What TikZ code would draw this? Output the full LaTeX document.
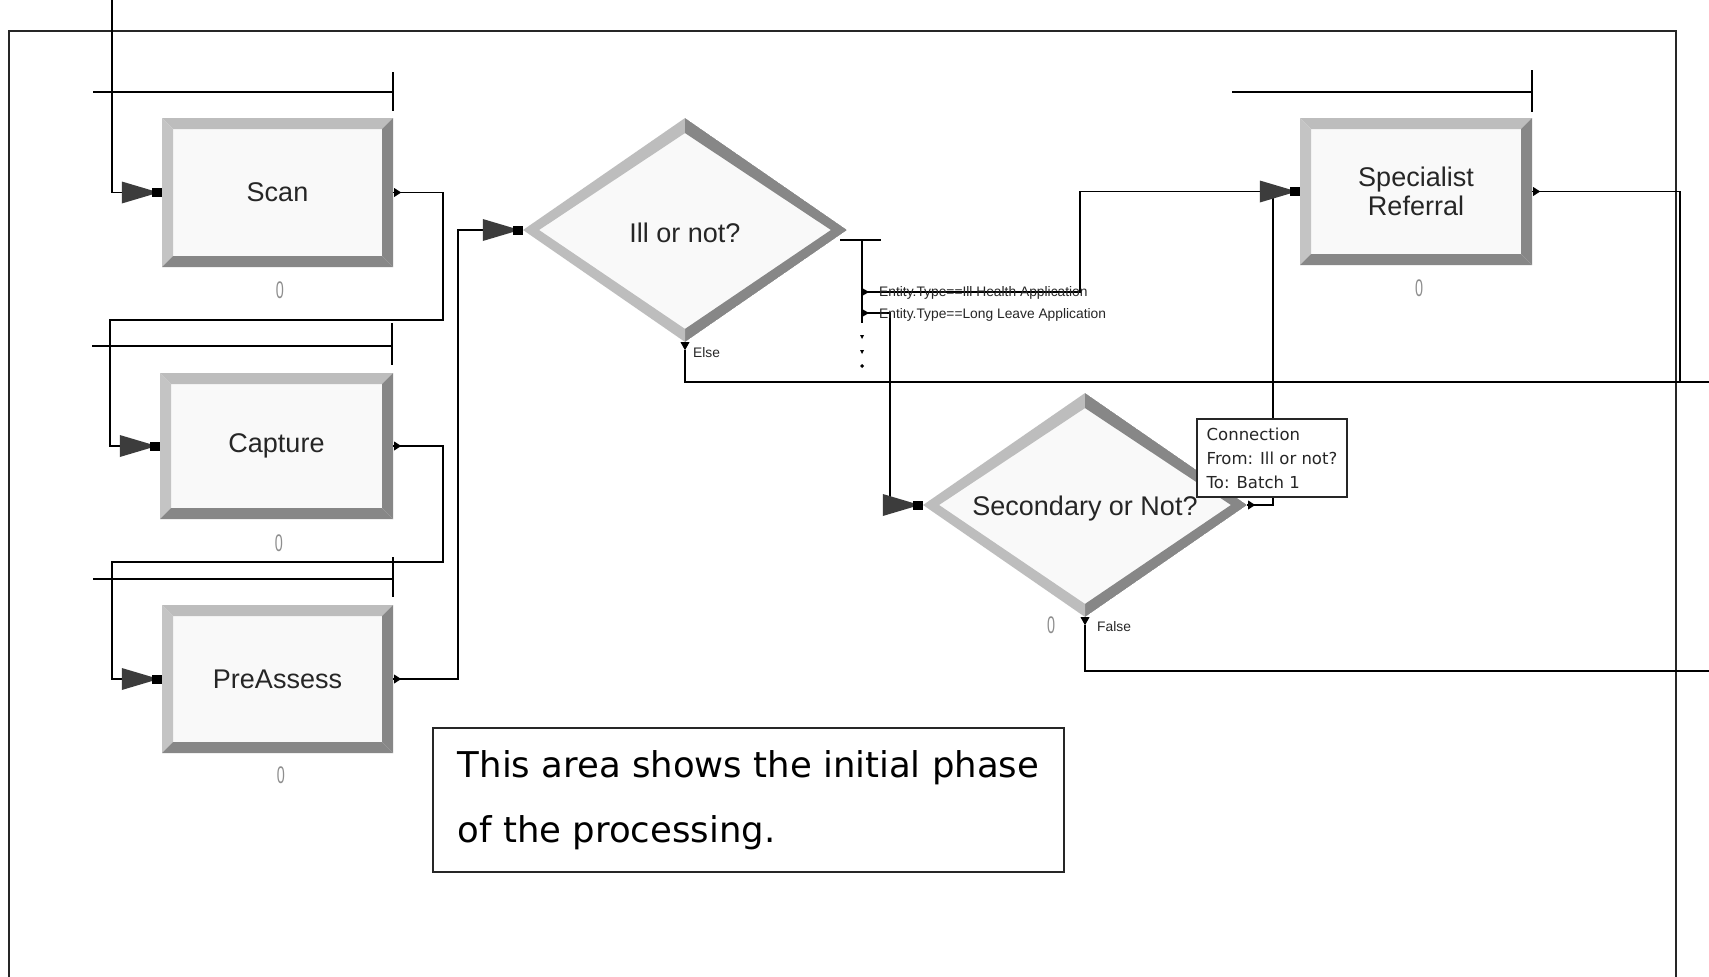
\documentclass[tikz,border=0pt]{standalone}
\usepackage{fontspec}
\setmainfont{Liberation Sans}
\newfontfamily\notefont{DejaVu Sans}
\usetikzlibrary{shapes.geometric}
\definecolor{boxfill}{HTML}{F9F9F9}
\definecolor{bevlight}{HTML}{BDBDBD}
\definecolor{bevlighter}{HTML}{C4C4C4}
\definecolor{bevdark}{HTML}{878787}
\definecolor{entrydark}{HTML}{3C3C3C}
\definecolor{cntgray}{HTML}{8E8E8E}
\definecolor{labtext}{HTML}{262626}
\newcommand\labfont{\fontsize{27}{29}\selectfont}
\newcommand\smlfont{\fontsize{13.8}{15}\selectfont}
\newcommand\myentrymark[1]{%
  \fill[entrydark] ([xshift=-40pt,yshift=11pt]#1) -- ([xshift=-8pt,yshift=1.5pt]#1) -- ([xshift=-8pt,yshift=-1.5pt]#1) -- ([xshift=-40pt,yshift=-11pt]#1) -- cycle;
  \fill[black] ([xshift=-10pt,yshift=-4.5pt]#1) rectangle ([yshift=4.5pt]#1);}
\newcommand\myoutmark[1]{\fill[black] ([xshift=1pt,yshift=4.5pt]#1) -- ([xshift=8pt]#1) -- ([xshift=1pt,yshift=-4.5pt]#1) -- cycle;}
\newcommand\mydownmark[1]{\fill[black] ([xshift=-4.5pt]#1) -- ([xshift=4.5pt]#1) -- ([yshift=-8pt]#1) -- cycle;}
\newcommand\mybranchmark[1]{\fill[black] ([yshift=4pt]#1) -- ([xshift=7pt]#1) -- ([yshift=-4pt]#1) -- cycle;}
\tikzset{
  conn/.style={line width=1.5pt,black},
  frame/.style={line width=1.7pt,black!85},
  queue/.style={line width=1.5pt,black},
  procbox/.style={rectangle, inner sep=0pt, fill=boxfill, minimum width=231pt, minimum height=149pt,
    font=\labfont, align=center, text=labtext,
    path picture={
      \fill[bevlight] (path picture bounding box.north west) -- (path picture bounding box.north east)
        -- ([xshift=-11pt,yshift=-11pt]path picture bounding box.north east)
        -- ([xshift=11pt,yshift=-11pt]path picture bounding box.north west) -- cycle;
      \fill[bevlighter] (path picture bounding box.north west) -- ([xshift=11pt,yshift=-11pt]path picture bounding box.north west)
        -- ([xshift=11pt,yshift=11pt]path picture bounding box.south west)
        -- (path picture bounding box.south west) -- cycle;
      \fill[bevdark] (path picture bounding box.south west) -- (path picture bounding box.south east)
        -- ([xshift=-11pt,yshift=11pt]path picture bounding box.south east)
        -- ([xshift=11pt,yshift=11pt]path picture bounding box.south west) -- cycle;
      \fill[bevdark] (path picture bounding box.north east) -- (path picture bounding box.south east)
        -- ([xshift=-11pt,yshift=11pt]path picture bounding box.south east)
        -- ([xshift=-11pt,yshift=-11pt]path picture bounding box.north east) -- cycle;
    }},
  decbox/.style={diamond, aspect=1.45, inner sep=0pt, minimum width=324pt, minimum height=224pt,
    fill=boxfill, font=\labfont, text=labtext,
    path picture={
      \fill[bevlight] (path picture bounding box.west) -- (path picture bounding box.north)
        -- ([yshift=-15pt]path picture bounding box.north) -- ([xshift=16pt]path picture bounding box.west) -- cycle;
      \fill[bevdark] (path picture bounding box.north) -- (path picture bounding box.east)
        -- ([xshift=-16pt]path picture bounding box.east) -- ([yshift=-15pt]path picture bounding box.north) -- cycle;
      \fill[bevdark] (path picture bounding box.east) -- (path picture bounding box.south)
        -- ([yshift=13pt]path picture bounding box.south) -- ([xshift=-16pt]path picture bounding box.east) -- cycle;
      \fill[bevlight] (path picture bounding box.south) -- (path picture bounding box.west)
        -- ([xshift=16pt]path picture bounding box.west) -- ([yshift=13pt]path picture bounding box.south) -- cycle;
    }},
  cnt/.style={inner sep=0pt, font=\fontsize{24}{24}\selectfont, text=cntgray},
  smalllab/.style={inner sep=0pt, anchor=west, font=\smlfont, text=labtext},
  tipbox/.style={draw=black!85, line width=1.3pt, fill=white, inner sep=0pt, minimum width=150pt,
    minimum height=78pt, align=left, font=\notefont\fontsize{16.5}{24}\selectfont, text=black!85},
  notebox/.style={draw=black!85, line width=1.4pt, fill=white, inner sep=0pt, minimum width=631pt,
    minimum height=144pt, align=left, font=\notefont\fontsize{35.5}{65}\selectfont, text=black}
}
\begin{document}
\begin{tikzpicture}[x=1pt,y=-1pt]
\useasboundingbox (0,0) rectangle (1709,977);
\fill[white] (0,0) rectangle (1709,977);
% outer frame
\draw[frame] (9,977) -- (9,31) -- (1676,31) -- (1676,977);

% queue lines
\draw[queue] (93,92) -- (393,92) (393,72) -- (393,111);
\draw[queue] (92,346) -- (392,346) (392,323) -- (392,365);
\draw[queue] (93,579) -- (393,579) (393,557) -- (393,597);
\draw[queue] (1232,92) -- (1532,92) (1532,70) -- (1532,112);

% modules
\node[procbox] (scan) at (277.5,192.5) {Scan};
\node[procbox, minimum width=233pt, minimum height=146pt] (capture) at (276.5,446) {Capture};
\node[procbox, minimum height=148pt] (preassess) at (277.5,679) {PreAssess};
\node[procbox, minimum width=232pt, minimum height=147pt] (specialist) at (1416,191.5) {Specialist\\Referral};
\node[decbox] (ill) at (685,230) {\raisebox{-3pt}[\height][\depth]{Ill or not?}};
\node[decbox] (sec) at (1085,505) {\raisebox{-4pt}[\height][\depth]{Secondary or Not?}};

% counters
\node[cnt] (scancnt) at (280,290) {\scalebox{0.6}[1]{0}};
\node[cnt] (capcnt) at (279,543) {\scalebox{0.6}[1]{0}};
\node[cnt] (precnt) at (281,775) {\scalebox{0.6}[1]{0}};
\node[cnt] (speccnt) at (1419,288) {\scalebox{0.6}[1]{0}};
\node[cnt] (seccnt) at (1051,625) {\scalebox{0.6}[1]{0}};

% entry points
\coordinate (scanIn) at ([xshift=-40pt]scan.west);
\coordinate (capIn) at ([xshift=-40pt]capture.west);
\coordinate (preIn) at ([xshift=-40pt]preassess.west);
\coordinate (illIn) at ([xshift=-40pt]ill.west);
\coordinate (secIn) at ([xshift=-40pt]sec.west);
\coordinate (specIn) at ([xshift=-40pt]specialist.west);
\coordinate (topSrc) at (112,0);
\coordinate (illBar) at (862,240);
\coordinate (br1) at (862,292);
\coordinate (br2) at (862,313);
\coordinate (edgeElse) at (1709,382);
\coordinate (edgeFalse) at (1709,671);

% connectors
\draw[conn] (topSrc) |- (scanIn);
\draw[conn] (scan.east) -| (443,320) -- (110,320) |- (capIn);
\draw[conn] (capture.east) -| (443,562) -- (112,562) |- (preIn);
\draw[conn] (preassess.east) -- (458,679) |- (illIn);
\draw[conn] (840,240) -- (881,240);
\draw[conn] (illBar) -- (862,323);
\draw[conn] (br1) -- (1080,292) |- (specIn);
\draw[conn] (br2) -| ([xshift=7pt]secIn);
\draw[conn] ([yshift=-8pt]ill.south) |- (edgeElse);
\draw[conn] (sec.east) -| ([xshift=13pt]specIn);
\draw[conn] ([yshift=-8pt]sec.south) |- (edgeFalse);
\draw[conn] (specialist.east) -- (1680,191.5) |- (edgeElse);

% markers
\myentrymark{scan.west}
\myentrymark{capture.west}
\myentrymark{preassess.west}
\myentrymark{ill.west}
\myentrymark{sec.west}
\myentrymark{specialist.west}
\myoutmark{scan.east}
\myoutmark{capture.east}
\myoutmark{preassess.east}
\myoutmark{specialist.east}
\myoutmark{sec.east}
\mydownmark{ill.south}
\mydownmark{sec.south}
\mybranchmark{br1}
\mybranchmark{br2}
\fill[black] (860,335) -- (864,335) -- (862,339) -- cycle;
\fill[black] (860,350) -- (864,350) -- (862,354) -- cycle;
\fill[black] (862,364) -- (864,366) -- (862,368) -- (860,366) -- cycle;

% labels
\node[smalllab] (lab1) at (879,293) {Entity.Type==Ill Health Application};
\node[smalllab] (lab2) at (879,315) {Entity.Type==Long Leave Application};
\node[smalllab] (elselab) at (693,353) {Else};
\node[smalllab] (falselab) at (1097,627) {False};

% tooltip and note
\node[tipbox] (tooltip) at (1272,458) {Connection\\From: Ill or not?\\To: Batch 1};
\node[notebox] (note) at (748.5,800) {This area shows the initial phase\\of the processing.};
\end{tikzpicture}
\end{document}
